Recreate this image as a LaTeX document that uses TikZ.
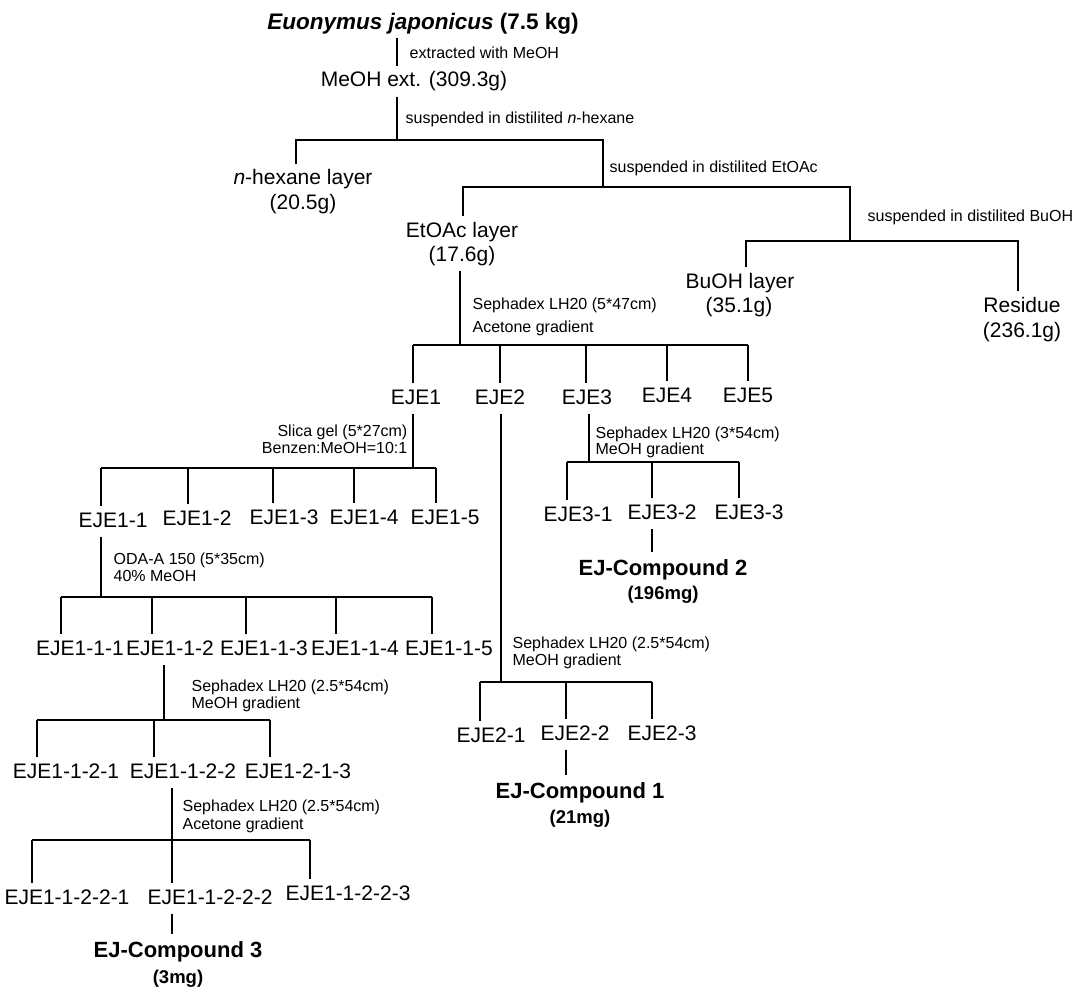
\documentclass[tikz,border=0pt]{standalone}
\usepackage{fontspec}
\setmainfont{Liberation Sans}
\tikzset{
  lbl/.style={anchor=base, inner xsep=0pt, inner ysep=5pt, text height=15pt, text depth=4pt, font=\fontsize{21}{24}\selectfont},
  note/.style={anchor=base west, inner sep=0pt, font=\fontsize{16}{18}\selectfont},
  cmpd/.style={anchor=base, inner xsep=0pt, inner ysep=6pt, text height=16pt, text depth=4pt, font=\fontsize{22}{26}\selectfont\bfseries},
  amt/.style={anchor=base, inner sep=0pt, font=\fontsize{18.5}{22}\selectfont\bfseries},
}

\begin{document}
\begin{tikzpicture}[x=1pt, y=-1pt, line width=1.3pt]
    \useasboundingbox (0,0) rectangle (1075,987);
    % extraction and partition
    \node[lbl, font=\fontsize{22.5}{26}\selectfont\bfseries, text depth=5pt, inner ysep=2pt] (src) at (423,30) {\textit{Euonymus japonicus} (7.5 kg)};
    \node[note] (n1) at (409,59) {extracted with MeOH};
    \node[lbl] (meoh) at (414,87) {MeOH ext. (309.3g)};
    \node[note] (n2) at (405,124) {suspended in distilited \textit{n}-hexane};
    \node[lbl] (hex) at (303,185) {\textit{n}-hexane layer};
    \node[lbl] (hexw) at (303,209) {(20.5g)};
    \node[note] (n3) at (609,173) {suspended in distilited EtOAc};
    \node[lbl] (eto) at (462,237) {EtOAc layer};
    \node[lbl] (etow) at (462,261) {(17.6g)};
    \node[note] (n4) at (867,221) {suspended in distilited BuOH};
    \node[lbl] (buoh) at (740,288) {BuOH layer};
    \node[lbl] (buohw) at (739,312) {(35.1g)};
    \node[lbl] (res) at (1022,312) {Residue};
    \node[lbl] (resw) at (1022,337) {(236.1g)};

    \coordinate (b1) at (397,140);
    \coordinate (b1a) at (296,140);
    \coordinate (b1b) at (603,140);
    \coordinate (b2a) at (463,187);
    \coordinate (b2b) at (850,187);
    \coordinate (b3a) at (746,241);
    \coordinate (b3b) at (1018,241);
    \draw (src.south -| b1) -- (meoh.north -| b1);
    \draw (meoh.south -| b1) -- (b1);
    \draw (hex.north -| b1a) -- (b1a) -- (b1b) -- (b1b |- b2a);
    \draw (eto.north -| b2a) -- (b2a) -- (b2b) -- (b2b |- b3a);
    \draw (buoh.north -| b3a) -- (b3a) -- (b3b) -- (res.north -| b3b);

    % Sephadex on EtOAc layer
    \node[note] (n5) at (472,309) {Sephadex LH20 (5*47cm)};
    \node[note] (n6) at (472,332) {Acetone gradient};
    \node[lbl] (e1) at (416,404) {EJE1};
    \node[lbl] (e2) at (500,404) {EJE2};
    \node[lbl] (e3) at (587,404) {EJE3};
    \node[lbl] (e4) at (667,402) {EJE4};
    \node[lbl] (e5) at (748,402) {EJE5};
    \coordinate (b4) at (460,345);
    \draw (etow.south -| b4) -- (b4);
    \foreach \c/\x in {e1/413, e2/500, e3/586, e4/667, e5/748}{
      \coordinate (\c-up) at (\x,345);
      \draw (\c-up) -- (\c.north -| \c-up);}
    \draw (e1-up) -- (e5-up);

    % EJE1
    \node[note, anchor=base east] (n7) at (408,436) {Slica gel (5*27cm)};
    \node[note, anchor=base east] (n8) at (408,453) {Benzen:MeOH=10:1};
    \node[lbl] (e11) at (113,527) {EJE1-1};
    \node[lbl] (e12) at (197,525) {EJE1-2};
    \node[lbl] (e13) at (284,524) {EJE1-3};
    \node[lbl] (e14) at (364,524) {EJE1-4};
    \node[lbl] (e15) at (445,524) {EJE1-5};
    \coordinate (b5) at (413,468);
    \draw (e1.south -| b5) -- (b5);
    \foreach \c/\x in {e11/101, e12/188, e13/273, e14/354, e15/436}{
      \coordinate (\c-up) at (\x,468);
      \draw (\c-up) -- (\c.north -| \c-up);}
    \draw (e11-up) -- (e15-up);

    % EJE1-1
    \node[note] (n9) at (113,564) {ODA-A 150 (5*35cm)};
    \node[note] (n10) at (113,581) {40\% MeOH};
    \node[lbl] (e111) at (80,655) {EJE1-1-1};
    \node[lbl] (e112) at (170,655) {EJE1-1-2};
    \node[lbl] (e113) at (264,655) {EJE1-1-3};
    \node[lbl] (e114) at (355,655) {EJE1-1-4};
    \node[lbl] (e115) at (449,655) {EJE1-1-5};
    \coordinate (b6) at (101,597);
    \draw (e11.south -| b6) -- (b6);
    \foreach \c/\x in {e111/61, e112/152, e113/246, e114/336, e115/432}{
      \coordinate (\c-up) at (\x,597);
      \draw (\c-up) -- (\c.north -| \c-up);}
    \draw (e111-up) -- (e115-up);

    % EJE1-1-2
    \node[note] (n11) at (191,691) {Sephadex LH20 (2.5*54cm)};
    \node[note] (n12) at (191,708) {MeOH gradient};
    \node[lbl] (e1121) at (66,778) {EJE1-1-2-1};
    \node[lbl] (e1122) at (183,778) {EJE1-1-2-2};
    \node[lbl] (e1123) at (298,778) {EJE1-2-1-3};
    \coordinate (b7) at (164,720);
    \draw (e112.south -| b7) -- (b7);
    \foreach \c/\x in {e1121/37, e1122/154, e1123/270}{
      \coordinate (\c-up) at (\x,720);
      \draw (\c-up) -- (\c.north -| \c-up);}
    \draw (e1121-up) -- (e1123-up);

    % EJE1-1-2-2
    \node[note] (n13) at (182,811) {Sephadex LH20 (2.5*54cm)};
    \node[note] (n14) at (182,829) {Acetone gradient};
    \node[lbl] (e11221) at (67,904) {EJE1-1-2-2-1};
    \node[lbl] (e11222) at (210,904) {EJE1-1-2-2-2};
    \node[lbl] (e11223) at (348,900) {EJE1-1-2-2-3};
    \coordinate (b8) at (172,840);
    \draw (e1122.south -| b8) -- (b8);
    \foreach \c/\x in {e11221/32, e11222/172, e11223/310}{
      \coordinate (\c-up) at (\x,840);
      \draw (\c-up) -- (\c.north -| \c-up);}
    \draw (e11221-up) -- (e11223-up);
    \node[cmpd] (c3) at (178,957) {EJ-Compound 3};
    \node[amt] (c3w) at (178,983) {(3mg)};
    \draw (e11222.south -| b8) -- (c3.north -| b8);

    % EJE2
    \node[note] (n15) at (512,648) {Sephadex LH20 (2.5*54cm)};
    \node[note] (n16) at (512,665) {MeOH gradient};
    \node[lbl] (e21) at (491,742) {EJE2-1};
    \node[lbl] (e22) at (575,740) {EJE2-2};
    \node[lbl] (e23) at (662,740) {EJE2-3};
    \coordinate (b9) at (501,682);
    \draw (e2.south -| b9) -- (b9);
    \foreach \c/\x in {e21/480, e22/566, e23/652}{
      \coordinate (\c-up) at (\x,682);
      \draw (\c-up) -- (\c.north -| \c-up);}
    \draw (e21-up) -- (e23-up);
    \node[cmpd] (c1) at (580,798) {EJ-Compound 1};
    \node[amt] (c1w) at (580,823) {(21mg)};
    \draw (e22.south -| e22-up) -- (c1.north -| e22-up);

    % EJE3
    \node[note] (n17) at (595,438) {Sephadex LH20 (3*54cm)};
    \node[note] (n18) at (595,454) {MeOH gradient};
    \node[lbl] (e31) at (578,521) {EJE3-1};
    \node[lbl] (e32) at (662,519) {EJE3-2};
    \node[lbl] (e33) at (749,519) {EJE3-3};
    \coordinate (b10) at (589,462);
    \draw (e3.south -| b10) -- (b10);
    \foreach \c/\x in {e31/567, e32/652, e33/739}{
      \coordinate (\c-up) at (\x,462);
      \draw (\c-up) -- (\c.north -| \c-up);}
    \draw (e31-up) -- (e33-up);
    \node[cmpd] (c2) at (663,575) {EJ-Compound 2};
    \node[amt] (c2w) at (663,599) {(196mg)};
    \draw (e32.south -| e32-up) -- (c2.north -| e32-up);
\end{tikzpicture}
\end{document}
